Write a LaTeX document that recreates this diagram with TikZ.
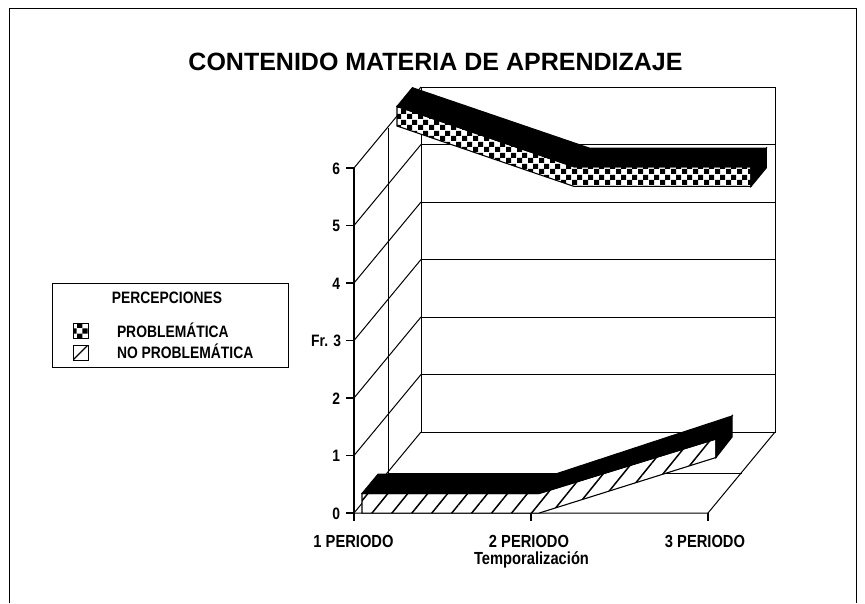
\documentclass[tikz,border=0pt]{standalone}
\usepackage{fontspec}
\setmainfont{Liberation Sans}
\newfontfamily\cf[FakeStretch=0.84]{Liberation Sans}
\usetikzlibrary{patterns.meta}
\tikzdeclarepattern{
  name=chk,
  type=uncolored,
  bottom left={(0pt,0pt)},
  top right={(11pt,11pt)},
  tile size={(11pt,11pt)},
  code={
    \fill (0pt,0pt) rectangle (5.5pt,5.5pt);
    \fill (5.5pt,5.5pt) rectangle (11pt,11pt);
  }
}
\tikzset{
  gl/.style={line width=1pt},
  ax/.style={line width=1.2pt},
  rib/.style={line width=1.1pt},
  checkface/.style={rib, preaction={fill=white}, pattern=chk, pattern color=black},
  hatchface/.style={rib, preaction={fill=white}, pattern={Lines[angle=51, distance=15.5pt, line width=1.5pt]}, pattern color=black},
  blackface/.style={rib, fill=black},
  ticklab/.style={anchor=base east, font=\cf\bfseries\fontsize{16.5}{18}\selectfont},
  xlab/.style={anchor=base, font=\cf\bfseries\fontsize{17.5}{20}\selectfont},
  leglab/.style={anchor=base west, font=\cf\bfseries\fontsize{16.5}{19}\selectfont},
}
\begin{document}
\begin{tikzpicture}[x=1pt, y=-1pt, every node/.style={inner sep=0pt, outer sep=0pt}]
\useasboundingbox (0,0) rectangle (865,603);
% outer frame
\draw[line width=1pt] (9,603) -- (9,8) -- (856,8) -- (856,603);
% title
\node[anchor=base, font=\bfseries\fontsize{25}{28}\selectfont] (title) at (435.5,70) {CONTENIDO MATERIA DE APRENDIZAJE};

% back wall
\draw[gl] (421,87.5) rectangle (775,432);
\foreach \k in {1,...,5} \draw[gl] (421,{432-57.5*\k}) -- (775,{432-57.5*\k});
% left wall
\foreach \k in {0,...,6} \draw[gl] (354,{513-57.5*\k}) -- (421,{432-57.5*\k});
\draw[gl] (388,128) -- (388,473);
\draw[ax] (354,168) -- (354,513);
% floor
\draw[gl] (354,513) -- (708,513) -- (775,432);
\draw[gl] (388,473) -- (741.5,473);
% ticks
\foreach \k in {0,...,6} \draw[ax] (346,{513-57.5*\k}) -- (354,{513-57.5*\k});
\foreach \xx in {354,531,708} \draw[ax] (\xx,513) -- (\xx,521);

% tick labels
\node[ticklab] (t0) at (340,519) {0};
\node[ticklab] (t1) at (340,461.5) {1};
\node[ticklab] (t2) at (340,404) {2};
\node[ticklab] (t3) at (341,346.5) {Fr. 3};
\node[ticklab] (t4) at (340,289) {4};
\node[ticklab] (t5) at (340,231.5) {5};
\node[ticklab] (t6) at (340,174) {6};
\node[xlab] (p1) at (353.5,547) {1 PERIODO};
\node[xlab] (p2) at (529,547) {2 PERIODO};
\node[xlab] (p3) at (705,547) {3 PERIODO};
\node[xlab] (xt) at (531.5,564.5) {Temporalización};

% ---- back series: PROBLEMATICA (checker) ----
\coordinate (R1t) at (397,106.4);  \coordinate (R1b) at (397,126);
\coordinate (R2t) at (574,166.8);  \coordinate (R2b) at (574,186.4);
\coordinate (R3t) at (751,166.8);  \coordinate (R3b) at (751,186.4);
\coordinate (S1t) at (412.4,87.7); \coordinate (S2t) at (589.4,148.1);
\coordinate (S3t) at (766.4,148.1); \coordinate (S3b) at (766.4,167.7);
\draw[checkface] (R1b) -- (R1t) -- (R2t) -- (R3t) -- (R3b) -- (R2b) -- cycle;
\draw[blackface] (R1t) -- (S1t) -- (S2t) -- (S3t) -- (R3t) -- (R2t) -- cycle;
\draw[blackface] (R3t) -- (S3t) -- (S3b) -- (R3b) -- cycle;

% ---- front series: NO PROBLEMATICA (hatched) ----
\coordinate (P1t) at (362,493.5);  \coordinate (P1b) at (362,513.1);
\coordinate (P2t) at (539,493.5);  \coordinate (P2b) at (539,513.1);
\coordinate (P3t) at (716,439);    \coordinate (P3b) at (716,457.5);
\coordinate (Q1t) at (378,474.2);  \coordinate (Q2t) at (555,474.2);
\coordinate (Q3t) at (732,416);    \coordinate (Q3b) at (732,437);
\draw[hatchface] (P1b) -- (P1t) -- (P2t) -- (P3t) -- (P3b) -- (P2b) -- cycle;
\draw[blackface] (P1t) -- (Q1t) -- (Q2t) -- (Q3t) -- (P3t) -- (P2t) -- cycle;
\draw[blackface] (P3t) -- (Q3t) -- (Q3b) -- (P3b) -- cycle;

% ---- legend ----
\draw[line width=1pt] (52,283) rectangle (288,367);
\node[anchor=base, font=\cf\bfseries\fontsize{16.5}{19}\selectfont] (lt) at (167,303) {PERCEPCIONES};
\draw[line width=1pt, preaction={fill=white}, pattern=chk, pattern color=black] (73,323) rectangle (88,338);
\node[leglab] (l1) at (117,337) {PROBLEMÁTICA};
\draw[line width=1pt] (73,345) rectangle (88,360);
\draw[line width=1.3pt] (73.5,359.5) -- (87.5,345.5);
\node[leglab] (l2) at (117,358) {NO PROBLEMÁTICA};
\end{tikzpicture}
\end{document}
